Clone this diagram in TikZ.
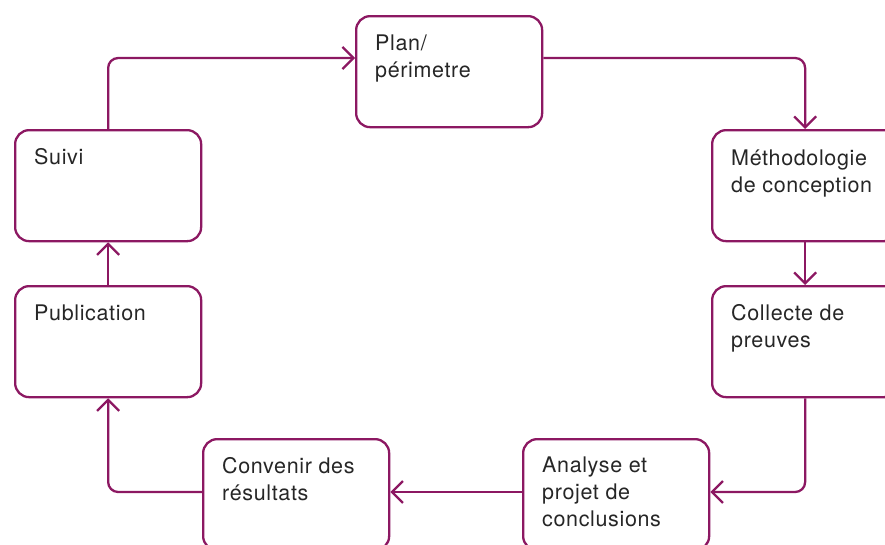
\documentclass[tikz,border=0pt]{standalone}
\usepackage{fontspec}
\setmainfont{TeX Gyre Heros}[LetterSpace = 3]
\usepackage{tikz}
\usetikzlibrary{arrows.meta}
\definecolor{plum}{RGB}{140,24,98}
\definecolor{ink}{RGB}{38,38,38}
\tikzset{
    stepbox/.style={draw = plum, line width = 2.3pt, rounded corners = 14pt,
        minimum width = 186pt, minimum height = 111pt, inner sep = 0pt, anchor = north west},
    steptext/.style={anchor = base west, align = left, inner sep = 0pt, text = ink,
        font = \fontsize{21.5}{27}\selectfont},
    flow/.style={draw = plum, line width = 2.3pt, rounded corners = 10pt,
        -{Straight Barb[length = 11pt, width = 22pt]}},
}

\begin{document}
\begin{tikzpicture}[x = 1pt, y = -1pt]
\useasboundingbox (0,0) rectangle (885,544);
% the seven steps
\node[stepbox] (plan) at (355,15) {};
\node[stepbox] (metho) at (711,129) {};
\node[stepbox] (collecte) at (711,285) {};
\node[stepbox] (analyse) at (522,438) {};
\node[stepbox] (convenir) at (202,438) {};
\node[stepbox] (publication) at (14,285) {};
\node[stepbox] (suivi) at (14,129) {};
% their texts (base = last line)
\node[steptext] (plantxt) at ([shift = {(20,62)}]plan.north west) {Plan/\\périmetre};
\node[steptext] (methotxt) at ([shift = {(20,63)}]metho.north west) {Méthodologie\\de conception};
\node[steptext] (collectetxt) at ([shift = {(20,62)}]collecte.north west) {Collecte de\\preuves};
\node[steptext] (analysetxt) at ([shift = {(20,88)}]analyse.north west) {Analyse et\\projet de\\conclusions};
\node[steptext] (convenirtxt) at ([shift = {(20,62)}]convenir.north west) {Convenir des\\résultats};
\node[steptext] (publicationtxt) at ([shift = {(20,35)}]publication.north west) {Publication};
\node[steptext] (suivitxt) at ([shift = {(20,35)}]suivi.north west) {Suivi};
% the cycle
\draw[flow] (suivi.north) |- ([yshift = -43pt]plan.north west);
\draw[flow] ([yshift = -43pt]plan.north east) -| (metho.north);
\draw[flow] (metho.south) -- (collecte.north);
\draw[flow] (collecte.south) |- ([yshift = -54pt]analyse.north east);
\draw[flow] ([yshift = -54pt]analyse.north west) -- ([yshift = -54pt]convenir.north east);
\draw[flow] ([yshift = -54pt]convenir.north west) -| (publication.south);
\draw[flow] (publication.north) -- (suivi.south);
\end{tikzpicture}
\end{document}
